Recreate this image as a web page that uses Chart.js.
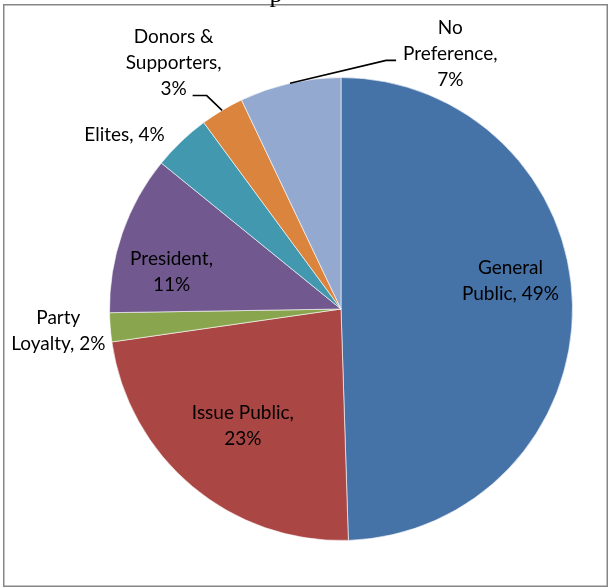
<!DOCTYPE html>
<html>
<head>
<meta charset="utf-8">
<script src="https://cdn.jsdelivr.net/npm/chart.js@4"></script>
<style>
  body { margin: 0; background: #fff; }
  canvas { display: block; }
</style>
</head>
<body>
<canvas id="myChart" width="613" height="588"></canvas>
<script>
const groups = ['General Public', 'Issue Public', 'Party Loyalty', 'President', 'Elites', 'Donors & Supporters', 'No Preference'];
const shares = [49, 23, 2, 11, 4, 3, 7];
const colours = ['#4572A7', '#AA4643', '#89A54E', '#71588F', '#4198AF', '#DB843D', '#93A9CF'];

// how each label is broken into lines (value text comes from shares)
const labelLines = [
	['General', 'Public, '],
	['Issue Public,', ''],
	['Party', 'Loyalty, '],
	['President,', ''],
	['Elites, '],
	['Donors &', 'Supporters,', ''],
	['No', 'Preference,', '']
];

// label centres, in radii from the pie centre
const labelPos = [
	[0.732, -0.121],
	[-0.424, 0.506],
	[-1.221, 0.095],
	[-0.732, -0.160],
	[-0.935, -0.753],
	[-0.723, -1.065],
	[0.472, -1.104]
];

// leader lines: slice index -> elbow and end point (in radii)
const leaders = {
	5: [[-0.580, -0.922], [-0.641, -0.922]],
	6: [[0.195, -1.074], [0.238, -1.074]]
};

const frame = {
	id: 'frame',
	beforeDraw(chart) {
		const ctx = chart.ctx;
		ctx.save();
		ctx.fillStyle = '#fff';
		ctx.fillRect(0, 0, chart.width, chart.height);
		ctx.strokeStyle = '#868686';
		ctx.lineWidth = 1.5;
		ctx.strokeRect(3.75, 4.75, 603.5, 581.5);
		ctx.restore();
	},
	afterDraw(chart) {
		// bottom of the clipped title glyph above the frame
		const ctx = chart.ctx;
		ctx.save();
		ctx.fillStyle = '#000';
		ctx.font = '26px "Liberation Serif"';
		ctx.textAlign = 'center';
		ctx.textBaseline = 'alphabetic';
		ctx.fillText('p', 276, 2);
		ctx.restore();
	}
};

const pieLabels = {
	id: 'pieLabels',
	afterDatasetsDraw(chart) {
		const ctx = chart.ctx;
		const arcs = chart.getDatasetMeta(0).data;
		const cx = arcs[0].x, cy = arcs[0].y, r = arcs[0].outerRadius;
		ctx.save();

		ctx.strokeStyle = '#000';
		ctx.lineWidth = 1.6;
		Object.keys(leaders).forEach(k => {
			const a = arcs[k];
			const mid = (a.startAngle + a.endAngle) / 2;
			const [elbow, end] = leaders[k];
			ctx.beginPath();
			ctx.moveTo(cx + Math.cos(mid) * r, cy + Math.sin(mid) * r);
			ctx.lineTo(cx + elbow[0] * r, cy + elbow[1] * r);
			ctx.lineTo(cx + end[0] * r, cy + end[1] * r);
			ctx.stroke();
		});

		ctx.fillStyle = '#000';
		ctx.font = '19px Lato';
		ctx.textAlign = 'center';
		ctx.textBaseline = 'middle';
		const lh = 26;
		labelLines.forEach((lines, i) => {
			const x = cx + labelPos[i][0] * r;
			const y0 = cy + labelPos[i][1] * r - (lines.length - 1) * lh / 2;
			lines.forEach((t, j) => {
				const txt = j === lines.length - 1 ? t + shares[i] + '%' : t;
				ctx.fillText(txt, x, y0 + j * lh);
			});
		});
		ctx.restore();
	}
};

const data = {
	labels: groups,
	datasets: [{
		data: shares,
		backgroundColor: colours,
		borderColor: 'rgba(255,255,255,0.6)',
		borderWidth: 1
	}]
};

const config = {
	type: 'pie',
	data: data,
	options: {
		responsive: false,
		animation: false,
		layout: {
			padding: { left: 109, right: 40, top: 77, bottom: 47 }
		},
		plugins: {
			legend: { display: false },
			tooltip: { enabled: false },
			title: { display: false }
		}
	},
	plugins: [frame, pieLabels]
};

const myChart = new Chart(
	document.getElementById('myChart'),
	config
);
</script>
</body>
</html>
